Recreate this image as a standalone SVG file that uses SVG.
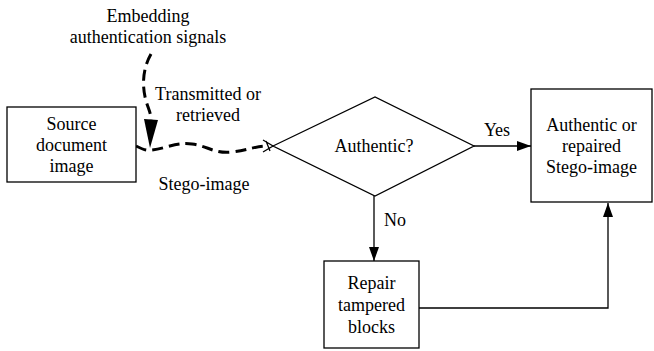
<svg xmlns="http://www.w3.org/2000/svg" width="654" height="351" viewBox="0 0 654 351">
  <style>
    .box { fill: #fff; stroke: #000; stroke-width: 1.3; }
    .line { fill: none; stroke: #000; stroke-width: 1.3; }
    .dash { fill: none; stroke: #000; stroke-width: 3; stroke-dasharray: 11 6; }
    .t { font-family: 'Liberation Serif', 'DejaVu Serif', serif; font-size: 18px; fill: #000; text-anchor: middle; }
  </style>
  <defs>
    <marker id="arrow" viewBox="0 0 14 10" refX="14" refY="5" markerWidth="14" markerHeight="10" markerUnits="userSpaceOnUse" orient="auto">
      <path d="M0,0 L14,5 L0,10 Z" fill="#000"/>
    </marker>
  </defs>

  <g id="connectors">
    <!-- embedding signal, dashed, into the stego channel -->
    <path class="dash" d="M151,54 C143,68 141,86 147,104 C149,110 151,114 151,120"/>
    <path d="M144,119 L158,120 L150,148 Z" fill="#000"/>
    <!-- transmission channel, wavy dashed -->
    <path class="dash" d="M136,146 C142,149 146,151 152,150 C168,148 176,142 192,144 C208,146 214,154 232,152 C248,150 256,146 268,146"/>
    <path class="line" d="M263,140 L273,146 L263,152 M266,141 L270,151"/>
    <!-- Yes -->
    <path class="line" d="M474,146 L531,146" marker-end="url(#arrow)"/>
    <!-- No -->
    <path class="line" d="M374,196 L374,261" marker-end="url(#arrow)"/>
    <!-- repaired back to output -->
    <path class="line" d="M419,308 L608,308 L608,203" marker-end="url(#arrow)"/>
  </g>

  <g id="source">
    <rect class="box" x="7" y="107" width="129" height="75"/>
    <text class="t" x="71.5" y="130">Source</text>
    <text class="t" x="71.5" y="151">document</text>
    <text class="t" x="71.5" y="172">image</text>
  </g>

  <g id="authentic-check">
    <polygon class="box" points="273,146 375,97 474,146 375,196"/>
    <text class="t" x="374" y="152">Authentic?</text>
  </g>

  <g id="output">
    <rect class="box" x="531" y="89" width="121" height="113"/>
    <text class="t" x="591.5" y="131">Authentic or</text>
    <text class="t" x="591.5" y="152">repaired</text>
    <text class="t" x="591.5" y="173">Stego-image</text>
  </g>

  <g id="repair">
    <rect class="box" x="324" y="261" width="95" height="87"/>
    <text class="t" x="371.5" y="289">Repair</text>
    <text class="t" x="371.5" y="311">tampered</text>
    <text class="t" x="371.5" y="333">blocks</text>
  </g>

  <g id="labels">
    <text class="t" x="148" y="22">Embedding</text>
    <text class="t" x="148" y="43">authentication signals</text>
    <text class="t" x="208" y="100">Transmitted or</text>
    <text class="t" x="208" y="121">retrieved</text>
    <text class="t" x="204" y="190">Stego-image</text>
    <text class="t" x="497" y="136">Yes</text>
    <text class="t" x="395" y="226">No</text>
  </g>
</svg>
